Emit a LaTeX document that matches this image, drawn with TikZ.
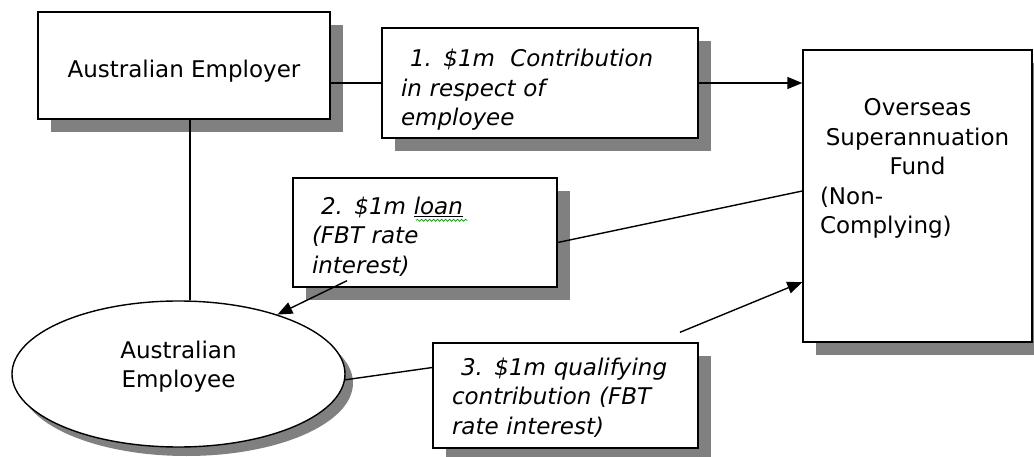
\documentclass[tikz,border=0pt]{standalone}
\usepackage{fontspec}
\setmainfont{DejaVu Sans}
\usetikzlibrary{shapes.geometric,shadows,arrows.meta,decorations.pathmorphing}
\definecolor{shade}{HTML}{808080}
\begin{document}
\begin{tikzpicture}[x=1pt,y=-1pt,
  every node/.style={font=\fontsize{23}{29.5}\selectfont},
  box/.style={draw=black, line width=1.4pt, fill=white, rectangle, inner sep=0pt,
    drop shadow={shadow xshift=13pt, shadow yshift=-13pt, fill=shade, opacity=1}},
  note/.style={box, align=left, inner xsep=19pt,
    font=\fontsize{23}{29.5}\selectfont\itshape},
  link/.style={line width=1.4pt},
  flow/.style={link, -{Triangle[length=15pt,width=12pt]}}]
\useasboundingbox (0,0) rectangle (1034,457);

% parties
\node[box, minimum width=292pt, minimum height=107pt] (employer) at (184,65.5)
  {\rule{0pt}{29.5pt}Australian Employer};
\node[box, minimum width=229pt, minimum height=292pt] (fund) at (917.5,196) {};
\node[anchor=north, inner sep=0pt, text width=195pt, align=left] (fundtext)
  at ([yshift=-49pt]fund.north)
  {\centering Overseas\\ Superannuation\\ Fund\par
   \raggedright (Non-\\ Complying)};
\node[ellipse, draw=black, line width=1.4pt, fill=white, inner sep=0pt,
  minimum width=333pt, minimum height=146pt, align=center,
  drop shadow={shadow xshift=8pt, shadow yshift=-9pt, fill=shade, opacity=1}]
  (emp) at (178.5,374) {Australian\\ Employee\rule[-19.5pt]{0pt}{1pt}};

% transactions
\node[note, text width=278pt, minimum height=110pt] (c1) at (540,83)
  {\rule{0pt}{31.5pt}\hspace*{9pt}1. \$1m\ \ Contribution\\ in respect of\\ employee};
\node[note, text width=226pt, minimum height=109pt] (c2) at (425,232.5)
  {\rule{0pt}{25.5pt}\hspace*{9pt}2. \$1m \underline{loan}\\ (FBT rate\\ interest)};
\node[note, text width=227pt, minimum height=105pt] (c3) at (565.5,395.5)
  {\rule{0pt}{21.5pt}\hspace*{9pt}3. \$1m qualifying\\ contribution (FBT\\ rate interest)};

% proofing squiggle under "loan"
\draw[green!60!black, line width=0.7pt, decorate,
  decoration={snake, amplitude=1pt, segment length=4pt}]
  ([xshift=124pt,yshift=-43pt]c2.north west) -- ++(51,0);

% connectors
\draw[link] (c1.west) -- (c1.west -| employer.east);
\draw[flow] (c1.east) -- (c1.east -| fund.west);
\draw[link] ([xshift=6pt]employer.south) -- ([xshift=6pt]employer.south |- emp.north);
\draw[link] ([yshift=-10pt]c2.east) -- ([yshift=5pt]fund.west);
\draw[flow] ([xshift=-78pt,yshift=7pt]c2.south) -- (emp.31);
\draw[link] (emp.-2) -- ([yshift=28pt]c3.west);
\draw[flow] ([xshift=114.5pt,yshift=10pt]c3.north) -- ([yshift=-86pt]fund.west);
\end{tikzpicture}
\end{document}
